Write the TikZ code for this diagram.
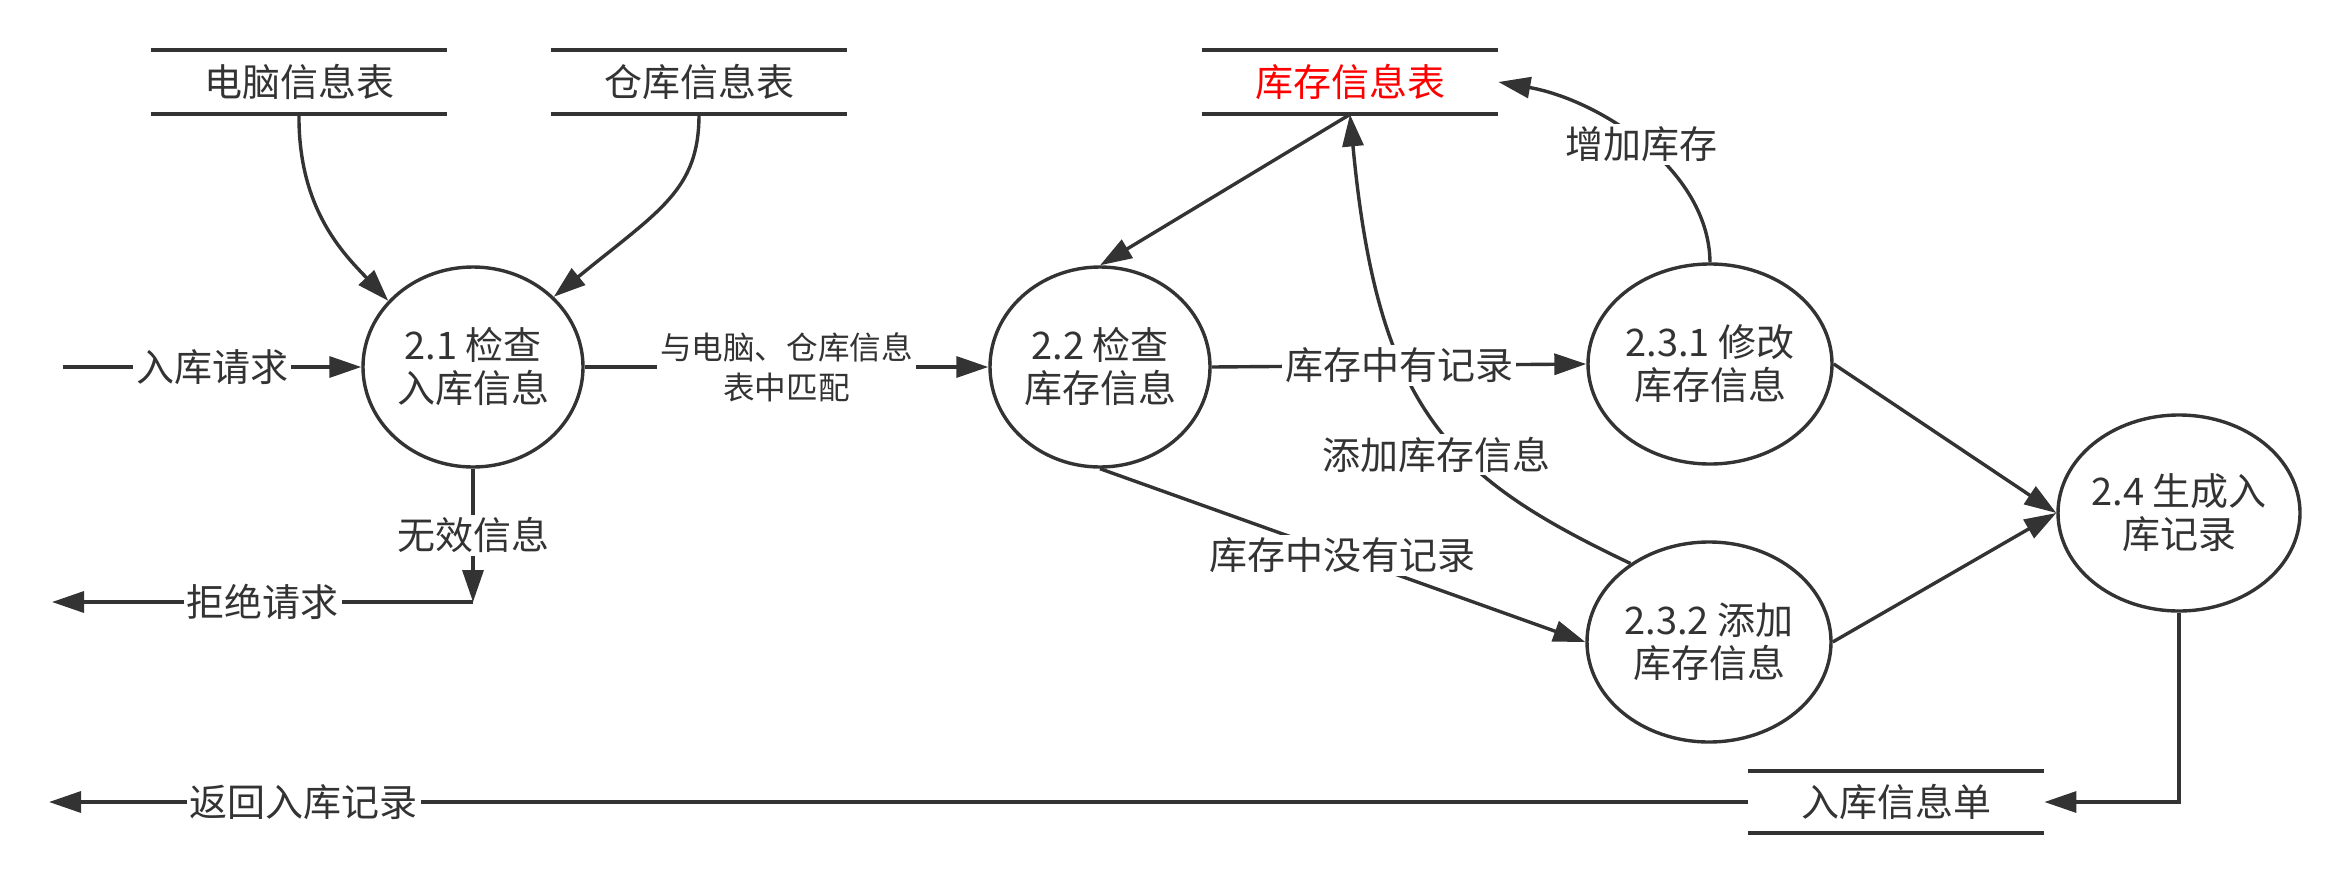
\documentclass[tikz,border=0pt]{standalone}
\usepackage{fontspec}
\setmainfont{Noto Sans CJK SC}
\usetikzlibrary{arrows.meta,shapes.geometric}
\definecolor{ink}{HTML}{333333}
\begin{document}
\begin{tikzpicture}[x=0.5pt,y=-0.5pt,
  every node/.style={text=ink},
  txt/.style={font=\fontsize{19pt}{21.5pt}\selectfont},
  smalltxt/.style={font=\fontsize{15.8pt}{20pt}\selectfont},
  proc/.style={ellipse, draw=ink, line width=1.7pt, inner xsep=-8pt, inner ysep=0pt, align=center, txt},
  store/.style={minimum width=148pt, minimum height=32pt, inner sep=0pt, txt},
  storeline/.style={draw=ink, line width=2pt},
  flow/.style={draw=ink, line width=1.7pt, -{Triangle[length=16pt,width=10.5pt]}},
  lab/.style={fill=white, inner sep=1.5pt, txt},
]
\useasboundingbox (0,0) rectangle (2350,884);

% data stores
\node[store] (s1) at (299,82) {电脑信息表};
\node[store] (s2) at (699,82) {仓库信息表};
\node[store, text=red] (s3) at (1350,82) {库存信息表};
\node[store, minimum height=31pt] (s4) at (1896,802) {入库信息单};
\foreach \s in {s1,s2,s3,s4}{
  \draw[storeline] (\s.north west) -- (\s.north east) (\s.south west) -- (\s.south east);
}

% processes
\node[proc, minimum width=110pt, minimum height=100pt] (p21) at (473,367) {2.1 检查\\入库信息};
\node[proc, minimum width=110pt, minimum height=100pt] (p22) at (1100,367) {2.2 检查\\库存信息};
\node[proc, minimum width=122pt, minimum height=100pt] (p231) at (1710,364) {2.3.1 修改\\库存信息};
\node[proc, minimum width=122pt, minimum height=100pt] (p232) at (1709,642) {2.3.2 添加\\库存信息};
\node[proc, minimum width=121pt, minimum height=98pt] (p24) at (2179,513) {2.4 生成入\\库记录};

% free ends
\coordinate (in) at (63,367);
\coordinate (c1) at (473,602);
\coordinate (rej) at (52,602);
\coordinate (ret) at (49,802);

% flows
\draw[flow] (s1.south) .. controls (298,210) and (345,255) .. (p21.142);
\draw[flow] (s2.south) .. controls (699,190) and (660,210) .. (p21.41);
\draw[flow] (in) -- node[lab] {入库请求} (p21.west);
\draw[flow] (p21.east) -- node[lab, smalltxt, align=center] {与电脑、仓库信息\\表中匹配} (p22.west);
\draw[flow] (p21.south) -- node[lab] {无效信息} (c1);
\draw[flow] (c1) -- node[lab] {拒绝请求} (rej);
\draw[flow] (s3.south) -- (p22.north);
\draw[flow] (p232.135) .. controls (1451,478) and (1378,413) .. node[lab, pos=0.4, xshift=-13pt] {添加库存信息} (s3.south);
\draw[flow] (p22.east) -- node[lab] {库存中有记录} (p231.west);
\draw[flow] (p22.south) -- node[lab] {库存中没有记录} (p232.west);
\draw[flow] (p231.north) .. controls (1709,170) and (1600,100) .. node[lab] {增加库存} (s3.east);
\draw[flow] (p231.east) -- (p24.west);
\draw[flow] (p232.east) -- (p24.west);
\draw[flow] (p24.south) |- (s4.east);
\draw[flow] (s4.west) -- node[lab, pos=0.85] {返回入库记录} (ret);
\end{tikzpicture}
\end{document}
